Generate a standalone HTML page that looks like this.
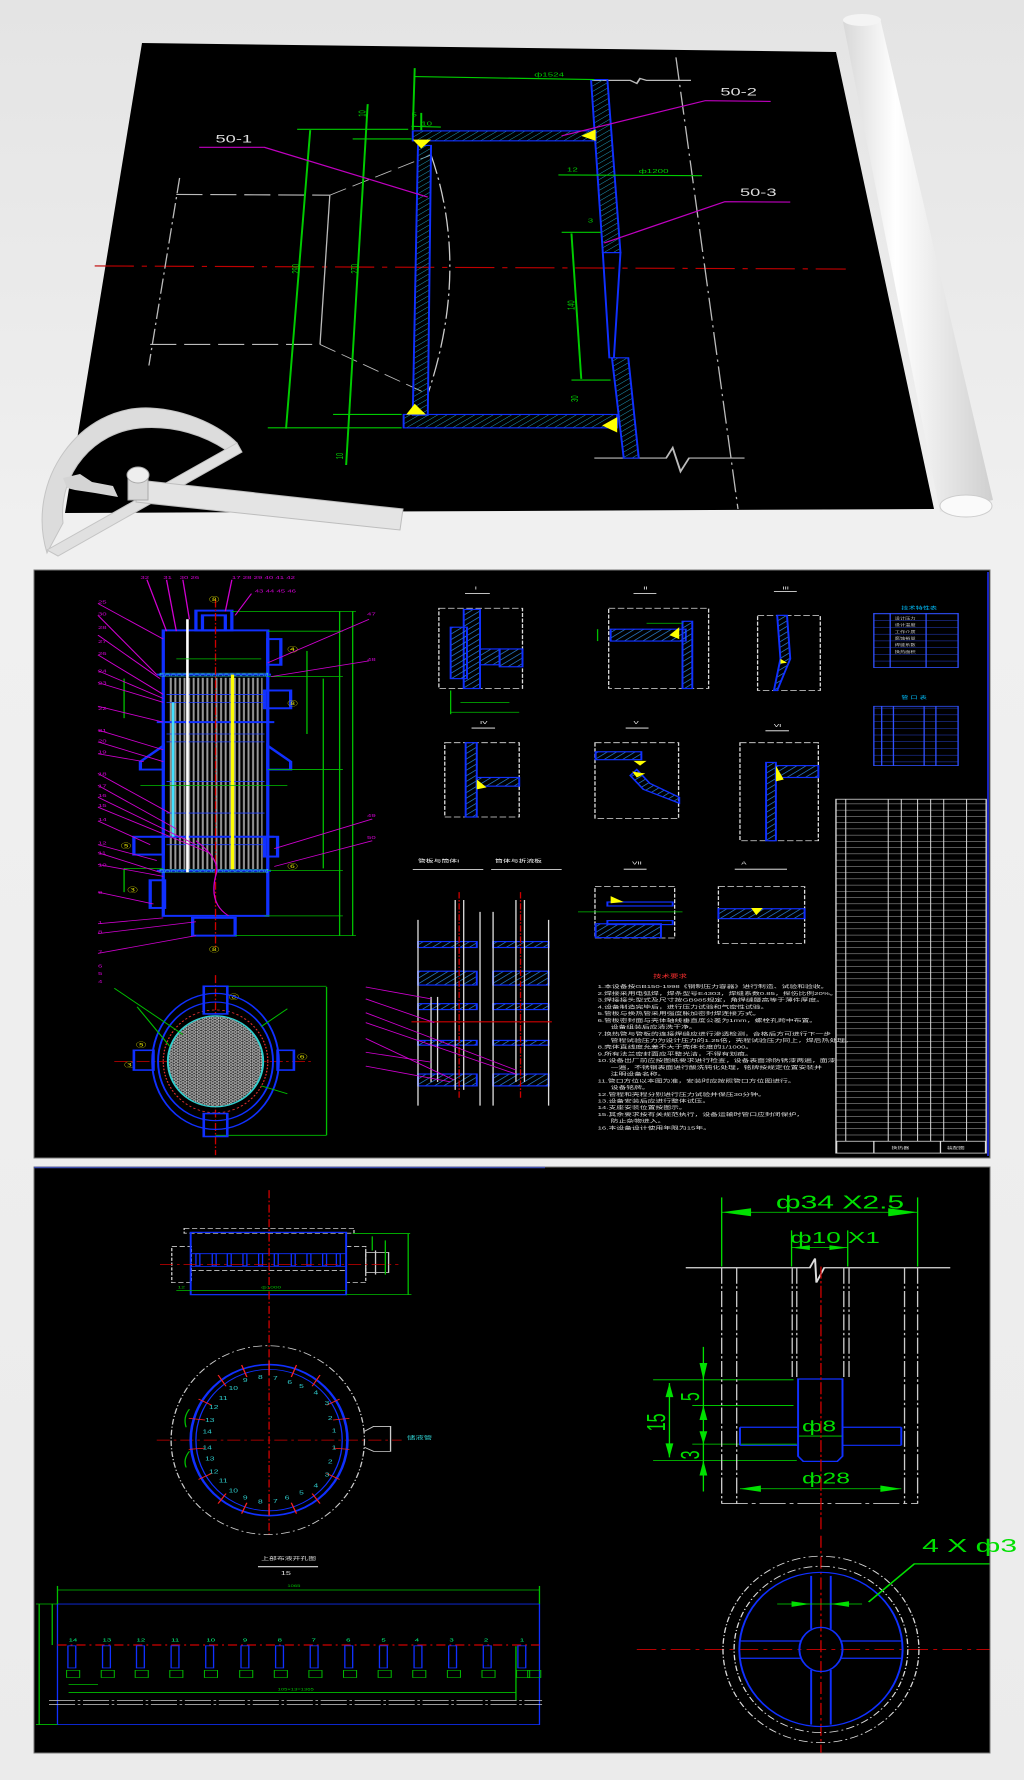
<!DOCTYPE html>
<html><head><meta charset="utf-8"><style>
html,body{margin:0;padding:0;width:1024px;height:1780px;overflow:hidden;background:#ececec}
svg{display:block}
text{font-family:"Liberation Sans","Noto Sans CJK SC",sans-serif}
</style></head><body>
<svg width="1024" height="1780" viewBox="0 0 1024 1780" xmlns="http://www.w3.org/2000/svg">
<defs>
<linearGradient id="bg" x1="0" y1="0" x2="0" y2="1"><stop offset="0" stop-color="#e4e4e4"/><stop offset="0.3" stop-color="#f0f0f0"/><stop offset="1" stop-color="#ebebeb"/></linearGradient>
<linearGradient id="roll" x1="0" y1="0" x2="1" y2="0"><stop offset="0" stop-color="#d8d8d8"/><stop offset="0.35" stop-color="#ffffff"/><stop offset="1" stop-color="#cfcfcf"/></linearGradient>
<pattern id="h" width="10" height="10" patternUnits="userSpaceOnUse" patternTransform="rotate(45)"><line x1="0" y1="0" x2="0" y2="10" stroke="#20a0c0" stroke-width="2"/></pattern>
<pattern id="hb" width="10" height="10" patternUnits="userSpaceOnUse" patternTransform="rotate(45)"><line x1="0" y1="0" x2="0" y2="10" stroke="#2a7fd0" stroke-width="3"/></pattern>
<pattern id="tubes" width="7" height="20" patternUnits="userSpaceOnUse"><rect x="1" y="0" width="3" height="20" fill="#9a9a9a"/></pattern>
<pattern id="dots" width="9" height="9" patternUnits="userSpaceOnUse"><circle cx="4.5" cy="4.5" r="3.5" fill="none" stroke="#30d0d0" stroke-width="1"/></pattern>
<pattern id="mesh" width="7" height="7" patternUnits="userSpaceOnUse"><rect width="7" height="7" fill="#333"/><circle cx="3.5" cy="3.5" r="2.6" fill="none" stroke="#ddd" stroke-width="1.2"/></pattern>
<pattern id="rows" width="10" height="15.8" patternUnits="userSpaceOnUse"><line x1="0" y1="0.5" x2="10" y2="0.5" stroke="#ddd" stroke-width="1"/></pattern>
<pattern id="rows2" width="10" height="17" patternUnits="userSpaceOnUse"><line x1="0" y1="0.5" x2="10" y2="0.5" stroke="#3050ff" stroke-width="1"/></pattern>
</defs>
<rect width="1024" height="1780" fill="url(#bg)"/>

<!-- ============ PANEL 1 ============ -->
<polygon points="142,43 836,52 934,509 65,513" fill="#000"/>
<polygon points="843,22 880,18 993,500 940,512" fill="url(#roll)"/>
<ellipse cx="862" cy="20" rx="19" ry="6" fill="#f4f4f4"/>
<ellipse cx="966" cy="506" rx="26" ry="11" fill="#fafafa" stroke="#ccc"/>
<g transform="scale(0.6531,0.3827)" fill="none" stroke-linecap="butt">
 <line x1="145" y1="695" x2="1295" y2="703" stroke="#c00000" stroke-width="3" stroke-dasharray="60,12,8,12"/>
 <line x1="275" y1="465" x2="228" y2="955" stroke="#bbb" stroke-width="2" stroke-dasharray="40,10,6,10"/>
 <line x1="270" y1="508" x2="505" y2="510" stroke="#bbb" stroke-width="3" stroke-dasharray="40,12"/>
 <line x1="230" y1="900" x2="490" y2="900" stroke="#bbb" stroke-width="3" stroke-dasharray="40,12"/>
 <line x1="505" y1="510" x2="490" y2="900" stroke="#bbb" stroke-width="2"/>
 <line x1="505" y1="510" x2="660" y2="405" stroke="#bbb" stroke-width="2" stroke-dasharray="30,12"/>
 <line x1="490" y1="900" x2="655" y2="1030" stroke="#bbb" stroke-width="2" stroke-dasharray="30,12"/>
 <path d="M660,405 Q720,700 655,1030" stroke="#ccc" stroke-width="2" stroke-dasharray="50,10,6,10"/>
 <line x1="1035" y1="150" x2="1130" y2="1330" stroke="#bbb" stroke-width="2" stroke-dasharray="60,12,6,12"/>
 <polyline points="910,1197 1020,1197 1030,1170 1042,1232 1055,1197 1140,1197" stroke="#bbb" stroke-width="3"/>
 <polyline points="905,210 965,210 975,218 980,205 990,210 1058,210" stroke="#bbb" stroke-width="3"/>
 <polygon points="640,380 660,380 655,1085 632,1085" fill="url(#h)" stroke="#1030ff" stroke-width="3"/>
 <rect x="632" y="342" width="280" height="26" fill="url(#h)" stroke="#1030ff" stroke-width="3"/>
 <rect x="618" y="1083" width="327" height="35" fill="url(#h)" stroke="#1030ff" stroke-width="3"/>
 <polygon points="905,208 930,208 950,660 923,660" fill="url(#h)" stroke="#1030ff" stroke-width="3"/>
 <polygon points="923,660 950,660 940,935 933,935" fill="none" stroke="#1030ff" stroke-width="3"/>
 <polygon points="937,935 962,935 978,1197 955,1197" fill="url(#h)" stroke="#1030ff" stroke-width="3"/>
 <g fill="#ffff00">
  <polygon points="632,365 660,365 645,388"/>
  <polygon points="912,338 912,368 890,355"/>
  <polygon points="622,1083 652,1083 635,1055"/>
  <polygon points="945,1090 945,1130 922,1112"/>
 </g>
 <g stroke="#00cc00" stroke-width="3">
  <line x1="475" y1="340" x2="438" y2="1120"/>
  <line x1="563" y1="272" x2="530" y2="1215"/>
  <line x1="875" y1="610" x2="890" y2="990"/>
  <line x1="455" y1="338" x2="625" y2="338"/>
  <line x1="540" y1="363" x2="630" y2="363"/>
  <line x1="410" y1="1118" x2="615" y2="1118"/>
  <line x1="510" y1="1083" x2="615" y2="1083"/>
  <line x1="860" y1="607" x2="920" y2="607"/>
  <line x1="875" y1="993" x2="935" y2="993"/>
  <line x1="635" y1="200" x2="910" y2="208"/>
  <line x1="855" y1="457" x2="1075" y2="459"/>
  <line x1="635" y1="178" x2="632" y2="340"/>
  <line x1="645" y1="295" x2="645" y2="340"/>
  <line x1="630" y1="330" x2="675" y2="332"/>
 </g>
 <g fill="#00cc00" font-size="15">
  <text x="818" y="200">ф1524</text>
  <text x="978" y="452">ф1200</text>
  <text x="868" y="448">12</text>
  <text x="900" y="582">3</text>
  <text x="645" y="328">10</text>
  <text x="630" y="305">5</text>
  <text transform="translate(458,715) rotate(-90)">290</text>
  <text transform="translate(548,715) rotate(-90)">270</text>
  <text transform="translate(880,810) rotate(-90)">140</text>
  <text transform="translate(885,1050) rotate(-90)">30</text>
  <text transform="translate(525,1200) rotate(-90)">10</text>
  <text transform="translate(560,305) rotate(-90)">10</text>
 </g>
 <g stroke="#c000c0" stroke-width="3">
  <polyline points="305,385 405,385 655,515"/>
  <polyline points="1180,265 1080,263 860,355"/>
  <polyline points="1210,528 1110,527 925,635"/>
 </g>
 <g fill="#ddd" font-size="28">
  <text x="330" y="372">50-1</text>
  <text x="1103" y="250">50-2</text>
  <text x="1133" y="512">50-3</text>
 </g>
</g>
<path d="M47,553 C25,480 80,405 150,408 C190,410 222,428 237,443 L226,450 C205,436 175,425 140,428 C95,432 58,472 63,523 Z" fill="#dcdcdc" stroke="#c4c4c4"/>
<polygon points="237,443 242,452 58,556 47,550" fill="#e0e0e0" stroke="#c4c4c4"/>
<polygon points="138,480 403,509 400,530 136,502" fill="#e4e4e4" stroke="#bdbdbd"/>
<polygon points="63,478 80,474 92,482 113,486 118,497 95,493 75,490 67,488" fill="#d4d4d4"/>
<rect x="128" y="476" width="20" height="24" fill="#d8d8d8" stroke="#aaa"/>
<ellipse cx="138" cy="475" rx="11" ry="8" fill="#eee" stroke="#aaa"/>

<!-- ============ PANEL 2 ============ -->
<rect x="34" y="570" width="956" height="588" fill="#000" stroke="#777" stroke-width="1"/>
<line x1="988" y1="572" x2="988" y2="1156" stroke="#2030ff" stroke-width="1.5"/>
<g transform="translate(0,560) scale(0.6531,0.3954)" fill="none">
 <rect x="258" y="298" width="144" height="484" fill="url(#tubes)"/>
 <g stroke="#1030ff" stroke-width="5">
  <rect x="250" y="178" width="160" height="722"/>
  <rect x="300" y="128" width="55" height="50"/>
  <rect x="310" y="140" width="35" height="38"/>
  <rect x="295" y="905" width="65" height="45"/>
  <line x1="240" y1="290" x2="415" y2="290"/>
  <line x1="240" y1="786" x2="415" y2="786"/>
  <line x1="240" y1="410" x2="420" y2="410"/>
  <line x1="230" y1="700" x2="420" y2="700"/>
  <rect x="410" y="200" width="20" height="65"/>
  <rect x="405" y="330" width="40" height="45"/>
  <rect x="205" y="700" width="45" height="45"/>
  <rect x="230" y="810" width="22" height="70"/>
  <rect x="405" y="700" width="20" height="50"/>
  <polygon points="250,470 215,510 215,530 250,530"/>
  <polygon points="410,470 445,510 445,530 410,530"/>
 </g>
 <g stroke="#2040ff" stroke-width="2">
  <line x1="255" y1="340" x2="405" y2="340"/><line x1="255" y1="360" x2="405" y2="360"/>
  <line x1="255" y1="440" x2="405" y2="440"/><line x1="255" y1="460" x2="405" y2="460"/>
  <line x1="255" y1="560" x2="405" y2="560"/><line x1="255" y1="640" x2="405" y2="640"/>
  <line x1="255" y1="720" x2="405" y2="720"/>
 </g>
 <rect x="245" y="286" width="165" height="8" fill="url(#dots)" stroke="#30d0d0"/>
 <rect x="245" y="782" width="165" height="8" fill="url(#dots)" stroke="#30d0d0"/>
 <line x1="356" y1="290" x2="356" y2="782" stroke="#ffff00" stroke-width="5"/>
 <line x1="287" y1="150" x2="287" y2="790" stroke="#ffffff" stroke-width="4"/>
 <line x1="265" y1="360" x2="265" y2="700" stroke="#40e0ff" stroke-width="4"/>
 <line x1="330" y1="100" x2="330" y2="980" stroke="#d00000" stroke-width="2" stroke-dasharray="20,5,4,5"/>
 <g stroke="#00c000" stroke-width="2">
  <line x1="520" y1="130" x2="520" y2="950"/><line x1="540" y1="130" x2="540" y2="950"/>
  <line x1="495" y1="300" x2="495" y2="780"/><line x1="470" y1="230" x2="470" y2="440"/>
  <line x1="355" y1="130" x2="545" y2="130"/><line x1="410" y1="180" x2="525" y2="180"/>
  <line x1="410" y1="295" x2="525" y2="295"/><line x1="410" y1="530" x2="525" y2="530"/>
  <line x1="410" y1="785" x2="525" y2="785"/><line x1="360" y1="950" x2="545" y2="950"/>
  <line x1="405" y1="900" x2="525" y2="900"/><line x1="190" y1="780" x2="250" y2="780"/>
  <line x1="190" y1="300" x2="190" y2="400"/><line x1="190" y1="780" x2="190" y2="840"/>
  <line x1="215" y1="570" x2="440" y2="570"/><line x1="270" y1="250" x2="400" y2="250"/>
  <line x1="500" y1="1080" x2="500" y2="1455"/><line x1="330" y1="1078" x2="500" y2="1078"/><line x1="330" y1="1455" x2="500" y2="1455"/>
 </g>
 <g stroke="#d000d0" stroke-width="2">
  <line x1="150" y1="110" x2="250" y2="200"/><line x1="150" y1="140" x2="240" y2="290"/>
  <line x1="150" y1="190" x2="245" y2="300"/><line x1="150" y1="240" x2="250" y2="340"/>
  <line x1="150" y1="280" x2="250" y2="350"/><line x1="150" y1="310" x2="250" y2="360"/>
  <line x1="150" y1="370" x2="250" y2="410"/><line x1="150" y1="430" x2="250" y2="480"/>
  <line x1="150" y1="460" x2="250" y2="510"/><line x1="150" y1="490" x2="220" y2="510"/>
  <line x1="150" y1="540" x2="260" y2="640"/><line x1="150" y1="570" x2="270" y2="680"/>
  <line x1="150" y1="600" x2="300" y2="720"/><line x1="150" y1="625" x2="320" y2="740"/>
  <line x1="150" y1="660" x2="230" y2="720"/><line x1="150" y1="720" x2="240" y2="760"/>
  <line x1="150" y1="740" x2="245" y2="790"/><line x1="150" y1="770" x2="250" y2="800"/>
  <line x1="150" y1="840" x2="235" y2="870"/><line x1="150" y1="920" x2="250" y2="905"/>
  <line x1="150" y1="945" x2="300" y2="915"/><line x1="150" y1="995" x2="300" y2="950"/>
  <line x1="225" y1="50" x2="255" y2="180"/><line x1="255" y1="50" x2="270" y2="180"/>
  <line x1="280" y1="50" x2="290" y2="150"/><line x1="355" y1="50" x2="345" y2="130"/>
  <line x1="385" y1="85" x2="360" y2="140"/>
  <line x1="565" y1="150" x2="410" y2="260"/><line x1="565" y1="255" x2="415" y2="295"/>
  <line x1="570" y1="655" x2="420" y2="730"/><line x1="570" y1="710" x2="420" y2="775"/>
  <path d="M300,710 Q340,760 330,800 Q320,870 350,900"/>
 </g>
 <g fill="#d000d0" font-size="12">
  <text x="215" y="48">32</text><text x="250" y="48">31</text><text x="275" y="48">30 26</text><text x="355" y="48">17 28 29 40 41 42</text><text x="390" y="82">43 44 45 46</text>
  <text x="150" y="110">25</text><text x="150" y="140">30</text><text x="150" y="175">28</text><text x="150" y="210">27</text><text x="150" y="240">26</text><text x="150" y="285">24</text><text x="150" y="315">23</text><text x="150" y="380">22</text><text x="150" y="435">21</text><text x="150" y="462">20</text><text x="150" y="490">19</text><text x="150" y="545">18</text><text x="150" y="575">17</text><text x="150" y="600">16</text><text x="150" y="625">15</text><text x="150" y="660">14</text><text x="150" y="720">12</text><text x="150" y="745">11</text><text x="150" y="775">10</text><text x="150" y="845">9</text><text x="150" y="920">1</text><text x="150" y="945">8</text><text x="150" y="995">7</text><text x="150" y="1030">6</text><text x="150" y="1050">5</text><text x="150" y="1070">4</text>
  <text x="562" y="140">47</text><text x="562" y="255">48</text><text x="562" y="650">49</text><text x="562" y="705">50</text>
 </g>
 <g fill="#e0e000" font-size="16"><text x="320" y="105">⑧</text><text x="440" y="232">④</text><text x="440" y="368">⑧</text><text x="185" y="728">⑤</text><text x="195" y="840">③</text><text x="440" y="780">⑥</text><text x="320" y="990">⑧</text><text x="350" y="1110">⑧</text><text x="208" y="1232">⑤</text><text x="455" y="1262">⑥</text><text x="190" y="1282">③</text></g>
 <line x1="330" y1="1050" x2="330" y2="1505" stroke="#d00000" stroke-width="2" stroke-dasharray="20,5,4,5"/>
 <line x1="175" y1="1268" x2="480" y2="1268" stroke="#d00000" stroke-width="2" stroke-dasharray="20,5,4,5"/>
 <ellipse cx="330" cy="1268" rx="97" ry="172" stroke="#1030ff" stroke-width="3"/>
 <ellipse cx="330" cy="1268" rx="88" ry="150" stroke="#1030ff" stroke-width="3"/>
 <ellipse cx="330" cy="1268" rx="80" ry="130" stroke="#e03030" stroke-width="2" stroke-dasharray="4,4"/>
 <ellipse cx="330" cy="1268" rx="73" ry="115" fill="url(#mesh)" stroke="#30d0d0" stroke-width="3"/>
 <g stroke="#1030ff" stroke-width="4">
  <rect x="312" y="1078" width="36" height="70"/><rect x="312" y="1400" width="36" height="58"/>
  <rect x="205" y="1240" width="30" height="50"/><rect x="425" y="1240" width="25" height="50"/>
 </g>
 <g stroke="#00c000" stroke-width="2"><line x1="175" y1="1083" x2="280" y2="1200"/><line x1="210" y1="1130" x2="260" y2="1230"/><line x1="440" y1="1135" x2="400" y2="1180"/><line x1="440" y1="1350" x2="400" y2="1330"/></g>
 <g stroke="#ddd" stroke-width="2" stroke-dasharray="10,4">
  <rect x="672" y="122" width="128" height="203"/>
  <rect x="932" y="122" width="153" height="203"/>
  <rect x="1160" y="140" width="96" height="190"/>
  <rect x="681" y="462" width="114" height="188"/>
  <rect x="911" y="462" width="128" height="192"/>
  <rect x="1133" y="462" width="120" height="248"/>
  <rect x="911" y="826" width="122" height="130"/>
  <rect x="1100" y="826" width="132" height="144"/>
 </g>
 <g stroke="#1030ff" stroke-width="3">
  <rect x="710" y="125" width="25" height="200" fill="url(#hb)"/>
  <rect x="690" y="170" width="25" height="130" fill="url(#hb)"/>
  <rect x="735" y="225" width="30" height="40" fill="url(#hb)"/>
  <rect x="765" y="225" width="35" height="45" fill="url(#hb)"/>
  <rect x="935" y="175" width="115" height="30" fill="url(#hb)"/>
  <rect x="1045" y="155" width="15" height="170" fill="url(#hb)"/>
  <polygon points="1190,140 1205,140 1210,250 1190,330 1185,330 1195,250" fill="url(#hb)"/>
  <rect x="713" y="462" width="17" height="188" fill="url(#hb)"/>
  <rect x="730" y="550" width="65" height="22" fill="url(#hb)"/>
  <rect x="912" y="485" width="70" height="20" fill="url(#hb)"/>
  <polygon points="975,530 995,565 1040,600 1040,615 985,580 965,545" fill="url(#hb)"/>
  <rect x="1173" y="512" width="15" height="198" fill="url(#hb)"/>
  <rect x="1188" y="520" width="65" height="30" fill="url(#hb)"/>
  <rect x="912" y="920" width="100" height="35" fill="url(#hb)"/>
  <rect x="930" y="865" width="100" height="10"/>
  <rect x="930" y="912" width="100" height="10"/>
  <rect x="1100" y="882" width="132" height="25" fill="url(#hb)"/>
 </g>
 <g fill="#ffff00">
  <polygon points="1040,170 1040,200 1025,190"/><polygon points="730,555 745,575 730,580"/>
  <polygon points="970,508 990,508 980,520"/><polygon points="968,535 988,540 975,550"/>
  <polygon points="1188,520 1200,555 1188,560"/><polygon points="935,850 955,865 935,868"/>
  <polygon points="1150,880 1168,880 1158,898"/><polygon points="1195,250 1205,260 1195,262"/>
 </g>
 <g stroke="#00c000" stroke-width="2">
  <line x1="690" y1="330" x2="690" y2="390"/><line x1="690" y1="385" x2="795" y2="385"/><line x1="705" y1="360" x2="780" y2="360"/>
  <line x1="915" y1="175" x2="915" y2="205"/><line x1="990" y1="160" x2="1045" y2="160"/>
  <line x1="885" y1="890" x2="1045" y2="890"/>
 </g>
 <g fill="#fff" font-size="12">
  <text x="727" y="75">I</text><text x="985" y="75">II</text><text x="1198" y="75">III</text>
  <text x="735" y="415">IV</text><text x="970" y="415">V</text><text x="1185" y="422">VI</text>
  <text x="968" y="770">VII</text><text x="1135" y="770">A</text>
  <text x="640" y="765">管板与筒体I</text><text x="758" y="765">筒体与折流板</text>
 </g>
 <g stroke="#fff" stroke-width="2">
  <line x1="712" y1="85" x2="750" y2="85"/><line x1="970" y1="85" x2="1005" y2="85"/><line x1="1185" y1="80" x2="1220" y2="80"/>
  <line x1="722" y1="425" x2="758" y2="425"/><line x1="958" y1="425" x2="993" y2="425"/><line x1="1172" y1="432" x2="1208" y2="432"/>
  <line x1="955" y1="782" x2="990" y2="782"/><line x1="1125" y1="782" x2="1205" y2="782"/>
  <line x1="632" y1="783" x2="740" y2="783"/><line x1="752" y1="783" x2="860" y2="783"/>
 </g>
 <g stroke="#1030ff" stroke-width="3" fill="url(#hb)">
  <rect x="640" y="965" width="90" height="15"/><rect x="755" y="965" width="85" height="15"/>
  <rect x="640" y="1040" width="90" height="35"/><rect x="755" y="1040" width="85" height="35"/>
  <rect x="640" y="1122" width="90" height="15"/><rect x="755" y="1122" width="85" height="15"/>
  <rect x="640" y="1215" width="90" height="12"/><rect x="755" y="1215" width="85" height="12"/>
  <rect x="640" y="1300" width="90" height="30"/><rect x="755" y="1300" width="85" height="30"/>
 </g>
 <g stroke="#ddd" stroke-width="2">
  <line x1="640" y1="910" x2="640" y2="1380"/><line x1="735" y1="890" x2="735" y2="1380"/>
  <line x1="755" y1="890" x2="755" y2="1380"/><line x1="840" y1="910" x2="840" y2="1380"/>
  <line x1="697" y1="860" x2="697" y2="1340"/><line x1="710" y1="860" x2="710" y2="1340"/>
  <line x1="790" y1="860" x2="790" y2="1320"/><line x1="803" y1="860" x2="803" y2="1320"/>
  <line x1="660" y1="1105" x2="660" y2="1320"/><line x1="670" y1="1105" x2="670" y2="1320"/>
 </g>
 <line x1="703" y1="840" x2="703" y2="1360" stroke="#d00000" stroke-width="2" stroke-dasharray="16,4,4,4"/>
 <line x1="797" y1="840" x2="797" y2="1360" stroke="#d00000" stroke-width="2" stroke-dasharray="16,4,4,4"/>
 <line x1="630" y1="1168" x2="845" y2="1168" stroke="#d00000" stroke-width="3"/>
 <g stroke="#d000d0" stroke-width="2"><line x1="560" y1="1080" x2="660" y2="1110"/><line x1="560" y1="1110" x2="665" y2="1170"/><line x1="560" y1="1145" x2="790" y2="1290"/><line x1="560" y1="1170" x2="790" y2="1300"/><line x1="560" y1="1210" x2="695" y2="1315"/><line x1="560" y1="1245" x2="660" y2="1270"/><line x1="560" y1="1280" x2="690" y2="1320"/></g>
 <text x="1000" y="1057" fill="#ff3030" font-size="13">技术要求</text>
 <g fill="#ddd" font-size="12">
  <text x="915" y="1083">1.本设备按GB150-1998《钢制压力容器》进行制造、试验和验收。</text>
  <text x="915" y="1100">2.焊接采用电弧焊，焊条型号E4303，焊缝系数0.85，探伤比例20%。</text>
  <text x="915" y="1117">3.焊接接头型式及尺寸按GB985规定，角焊缝腰高等于薄件厚度。</text>
  <text x="915" y="1134">4.设备制造完毕后，进行压力试验和气密性试验。</text>
  <text x="915" y="1151">5.管板与换热管采用强度胀加密封焊连接方式。</text>
  <text x="915" y="1168">6.管板密封面与壳体轴线垂直度公差为1mm，螺栓孔跨中布置。</text>
  <text x="935" y="1185">设备组装后应清洗干净。</text>
  <text x="915" y="1202">7.换热管与管板的连接焊缝应进行渗透检测，合格后方可进行下一步</text>
  <text x="935" y="1219">管程试验压力为设计压力的1.25倍，壳程试验压力同上，焊后热处理。</text>
  <text x="915" y="1236">8.壳体直线度允差不大于壳体长度的1/1000。</text>
  <text x="915" y="1253">9.所有法兰密封面应平整光洁，不得有划痕。</text>
  <text x="915" y="1270">10.设备出厂前应按图纸要求进行检查，设备表面涂防锈漆两遍，面漆</text>
  <text x="935" y="1287">一遍，不锈钢表面进行酸洗钝化处理，铭牌按规定位置安装并</text>
  <text x="935" y="1304">注明设备名称。</text>
  <text x="915" y="1321">11.管口方位以本图为准，安装时应按照管口方位图进行。</text>
  <text x="935" y="1338">设备铭牌。</text>
  <text x="915" y="1355">12.管程和壳程分别进行压力试验并保压30分钟。</text>
  <text x="915" y="1372">13.设备安装后应进行整体试压。</text>
  <text x="915" y="1389">14.支座安装位置按图示。</text>
  <text x="915" y="1406">15.其余要求按有关规范执行，设备运输时管口应封闭保护，</text>
  <text x="935" y="1423">防止杂物进入。</text>
  <text x="915" y="1440">16.本设备设计使用年限为15年。</text>
 </g>
 <text x="1380" y="125" fill="#00c0ff" font-size="11">技术特性表</text>
 <rect x="1338" y="135" width="129" height="137" fill="url(#rows2)" stroke="#3050ff" stroke-width="2"/>
 <g stroke="#3050ff" stroke-width="2"><line x1="1363" y1="135" x2="1363" y2="272"/><line x1="1418" y1="135" x2="1418" y2="272"/></g>
 <text x="1380" y="352" fill="#00c0ff" font-size="11">管 口 表</text>
 <rect x="1338" y="370" width="129" height="150" fill="url(#rows2)" stroke="#3050ff" stroke-width="2"/>
 <g stroke="#3050ff" stroke-width="2"><line x1="1350" y1="370" x2="1350" y2="520"/><line x1="1368" y1="370" x2="1368" y2="520"/><line x1="1415" y1="370" x2="1415" y2="520"/><line x1="1433" y1="370" x2="1433" y2="520"/></g>
 <g fill="#ccc" font-size="8"><text x="1370" y="150">设计压力</text><text x="1370" y="167">设计温度</text><text x="1370" y="184">工作介质</text><text x="1370" y="201">腐蚀裕量</text><text x="1370" y="218">焊缝系数</text><text x="1370" y="235">换热面积</text></g>
 <rect x="1280" y="605" width="230" height="895" fill="url(#rows)" stroke="#ddd" stroke-width="2"/>
 <g stroke="#ddd" stroke-width="1.5">
  <line x1="1295" y1="605" x2="1295" y2="1470"/><line x1="1360" y1="605" x2="1360" y2="1470"/>
  <line x1="1380" y1="605" x2="1380" y2="1470"/><line x1="1405" y1="605" x2="1405" y2="1470"/>
  <line x1="1425" y1="605" x2="1425" y2="1470"/><line x1="1445" y1="605" x2="1445" y2="1470"/>
  <line x1="1480" y1="605" x2="1480" y2="1470"/>
 </g>
 <rect x="1281" y="1470" width="228" height="30" fill="#000" stroke="#ddd" stroke-width="2"/>
 <line x1="1338" y1="1470" x2="1338" y2="1500" stroke="#ddd" stroke-width="2"/><line x1="1440" y1="1470" x2="1440" y2="1500" stroke="#ddd" stroke-width="2"/>
 <g fill="#ddd" font-size="9"><text x="1365" y="1490">换热器</text><text x="1450" y="1490">装配图</text></g>
</g>

<!-- ============ PANEL 3 ============ -->
<rect x="34" y="1167" width="956" height="586" fill="#000" stroke="#777" stroke-width="1"/>
<line x1="34" y1="1167.5" x2="545" y2="1167.5" stroke="#4050b0" stroke-width="1.5"/>
<g transform="translate(0,1150) scale(0.6531,0.4018)" fill="none">
 <g stroke="#ccc" stroke-width="2" stroke-dasharray="8,4">
  <rect x="282" y="195" width="260" height="12"/>
  <rect x="263" y="240" width="30" height="90"/>
  <rect x="530" y="240" width="30" height="90"/>
  <line x1="292" y1="300" x2="530" y2="300"/>
 </g>
 <rect x="292" y="205" width="238" height="155" stroke="#1030ff" stroke-width="3"/>
 <g stroke="#1030ff" stroke-width="2"><line x1="292" y1="258" x2="530" y2="258"/><line x1="292" y1="290" x2="530" y2="290"/></g>
 <g stroke="#1030ff" stroke-width="2">
  <rect x="300" y="258" width="6" height="30"/><rect x="325" y="258" width="6" height="30"/><rect x="348" y="258" width="6" height="30"/><rect x="372" y="258" width="6" height="30"/><rect x="396" y="258" width="6" height="30"/><rect x="420" y="258" width="6" height="30"/><rect x="446" y="258" width="6" height="30"/><rect x="470" y="258" width="6" height="30"/><rect x="494" y="258" width="6" height="30"/><rect x="515" y="258" width="6" height="30"/>
 </g>
 <g stroke="#ccc" stroke-width="2"><rect x="560" y="255" width="35" height="50"/><line x1="575" y1="250" x2="575" y2="310"/></g>
 <g stroke="#00c000" stroke-width="2"><line x1="540" y1="208" x2="628" y2="208"/><line x1="625" y1="208" x2="625" y2="360"/><line x1="590" y1="225" x2="590" y2="310"/><line x1="570" y1="215" x2="570" y2="250"/><line x1="270" y1="350" x2="530" y2="350"/><line x1="530" y1="360" x2="630" y2="360"/></g>
 <g fill="#00c000" font-size="10"><text x="400" y="345">ф1000</text><text x="272" y="345">12</text></g>
 <line x1="412" y1="100" x2="412" y2="960" stroke="#d00000" stroke-width="2" stroke-dasharray="20,6,4,6"/>
 <line x1="245" y1="285" x2="610" y2="285" stroke="#d00000" stroke-width="2" stroke-dasharray="20,6,4,6"/>
 <line x1="240" y1="722" x2="615" y2="722" stroke="#d00000" stroke-width="2" stroke-dasharray="20,6,4,6"/>
 <ellipse cx="410" cy="722" rx="148" ry="235" stroke="#ccc" stroke-width="2" stroke-dasharray="14,5,3,5"/>
 <ellipse cx="412" cy="722" rx="120" ry="188" stroke="#1030ff" stroke-width="4"/>
 <ellipse cx="412" cy="722" rx="112" ry="176" stroke="#1030ff" stroke-width="2"/>
 <g stroke="#ccc" stroke-width="2"><polyline points="558,700 572,688 598,688 598,750 572,750 558,740"/></g>
 <g stroke="#ff2020" stroke-width="2">
  <line x1="412" y1="525" x2="412" y2="560"/><line x1="454" y1="535" x2="446" y2="565"/><line x1="370" y1="535" x2="378" y2="565"/>
  <line x1="490" y1="560" x2="478" y2="588"/><line x1="334" y1="560" x2="346" y2="588"/>
  <line x1="520" y1="620" x2="500" y2="635"/><line x1="304" y1="620" x2="324" y2="635"/>
  <line x1="535" y1="668" x2="510" y2="672"/><line x1="289" y1="668" x2="314" y2="672"/>
  <line x1="535" y1="745" x2="510" y2="742"/><line x1="289" y1="745" x2="314" y2="742"/>
  <line x1="520" y1="820" x2="500" y2="805"/><line x1="304" y1="820" x2="324" y2="805"/>
  <line x1="490" y1="880" x2="478" y2="855"/><line x1="334" y1="880" x2="346" y2="855"/>
  <line x1="454" y1="905" x2="446" y2="878"/><line x1="370" y1="905" x2="378" y2="878"/>
  <line x1="412" y1="910" x2="412" y2="880"/>
 </g>
 <g fill="#30d0d0" font-size="13">
  <text x="395" y="570">8</text><text x="418" y="572">7</text><text x="440" y="582">6</text><text x="458" y="592">5</text><text x="480" y="608">4</text><text x="497" y="635">3</text><text x="502" y="672">2</text><text x="508" y="703">1</text>
  <text x="372" y="578">9</text><text x="350" y="597">10</text><text x="335" y="622">11</text><text x="320" y="645">12</text><text x="314" y="677">13</text><text x="310" y="705">14</text>
  <text x="310" y="745">14</text><text x="314" y="773">13</text><text x="320" y="805">12</text><text x="335" y="828">11</text><text x="350" y="853">10</text><text x="372" y="870">9</text>
  <text x="395" y="880">8</text><text x="418" y="878">7</text><text x="436" y="870">6</text><text x="458" y="857">5</text><text x="480" y="840">4</text><text x="497" y="812">3</text><text x="502" y="780">2</text><text x="508" y="746">1</text>
  <text x="623" y="720">储液管</text>
 </g>
 <g stroke="#00c000" stroke-width="2"><path d="M290,645 Q280,665 285,690"/><path d="M290,750 Q280,770 285,790"/></g>
 <text x="400" y="1020" fill="#ddd" font-size="12">上部布液开孔图</text>
 <line x1="395" y1="1037" x2="487" y2="1037" stroke="#ddd" stroke-width="3"/>
 <text x="430" y="1058" fill="#ddd" font-size="14">15</text>
 <rect x="88" y="1130" width="738" height="300" stroke="#1030ff" stroke-width="2"/>
 <g stroke="#00c000" stroke-width="2"><line x1="88" y1="1095" x2="826" y2="1095"/><line x1="88" y1="1085" x2="88" y2="1130"/><line x1="826" y1="1085" x2="826" y2="1130"/><line x1="60" y1="1130" x2="60" y2="1430"/><line x1="80" y1="1130" x2="80" y2="1232"/><line x1="55" y1="1130" x2="88" y2="1130"/><line x1="55" y1="1430" x2="88" y2="1430"/><line x1="105" y1="1350" x2="790" y2="1350"/><line x1="105" y1="1330" x2="150" y2="1330"/><line x1="790" y1="1235" x2="790" y2="1370"/></g>
 <text x="440" y="1088" fill="#00c000" font-size="9">1065</text>
 <text x="425" y="1345" fill="#00c000" font-size="9">105×13=1365</text>
 <line x1="88" y1="1232" x2="826" y2="1232" stroke="#d00000" stroke-width="3" stroke-dasharray="14,6,3,6"/>
 <g stroke="#ccc" stroke-width="2" stroke-dasharray="40,4,4,4"><line x1="75" y1="1370" x2="830" y2="1370"/><line x1="75" y1="1380" x2="830" y2="1380"/></g>
 <g fill="#00ff80" font-size="12">
  <text x="105" y="1223">14</text><text x="157" y="1223">13</text><text x="209" y="1223">12</text><text x="262" y="1223">11</text><text x="316" y="1223">10</text><text x="372" y="1223">9</text><text x="425" y="1223">8</text><text x="477" y="1223">7</text><text x="530" y="1223">6</text><text x="584" y="1223">5</text><text x="635" y="1223">4</text><text x="688" y="1223">3</text><text x="741" y="1223">2</text><text x="796" y="1223">1</text>
 </g>
 <g stroke="#1030ff" stroke-width="2">
  <rect x="104" y="1234" width="12" height="55"/><rect x="157" y="1234" width="12" height="55"/><rect x="209" y="1234" width="12" height="55"/><rect x="262" y="1234" width="12" height="55"/><rect x="315" y="1234" width="12" height="55"/><rect x="369" y="1234" width="12" height="55"/><rect x="422" y="1234" width="12" height="55"/><rect x="475" y="1234" width="12" height="55"/><rect x="528" y="1234" width="12" height="55"/><rect x="581" y="1234" width="12" height="55"/><rect x="634" y="1234" width="12" height="55"/><rect x="687" y="1234" width="12" height="55"/><rect x="740" y="1234" width="12" height="55"/><rect x="793" y="1234" width="12" height="55"/>
 </g>
 <g stroke="#00c000" stroke-width="1.5">
  <rect x="102" y="1295" width="20" height="18"/><rect x="155" y="1295" width="20" height="18"/><rect x="207" y="1295" width="20" height="18"/><rect x="260" y="1295" width="20" height="18"/><rect x="313" y="1295" width="20" height="18"/><rect x="367" y="1295" width="20" height="18"/><rect x="420" y="1295" width="20" height="18"/><rect x="473" y="1295" width="20" height="18"/><rect x="526" y="1295" width="20" height="18"/><rect x="579" y="1295" width="20" height="18"/><rect x="632" y="1295" width="20" height="18"/><rect x="685" y="1295" width="20" height="18"/><rect x="738" y="1295" width="20" height="18"/><rect x="791" y="1295" width="20" height="18"/><rect x="808" y="1295" width="20" height="18"/>
 </g>
 <g stroke="#00e000" stroke-width="2">
  <line x1="1105" y1="118" x2="1105" y2="290"/><line x1="1405" y1="118" x2="1405" y2="290"/>
  <line x1="1105" y1="155" x2="1405" y2="155"/>
  <line x1="1212" y1="200" x2="1212" y2="290"/><line x1="1298" y1="200" x2="1298" y2="290"/>
  <line x1="1212" y1="243" x2="1298" y2="243"/>
  <line x1="1000" y1="572" x2="1215" y2="572"/><line x1="1000" y1="773" x2="1220" y2="773"/>
  <line x1="1060" y1="636" x2="1215" y2="636"/><line x1="1060" y1="732" x2="1220" y2="732"/>
  <line x1="1025" y1="580" x2="1025" y2="765"/><line x1="1077" y1="490" x2="1077" y2="850"/>
  <line x1="1133" y1="843" x2="1380" y2="843"/><line x1="1222" y1="712" x2="1290" y2="712"/>
 </g>
 <g fill="#00e000">
  <polygon points="1105,155 1150,145 1150,165"/><polygon points="1405,155 1360,145 1360,165"/>
  <polygon points="1212,243 1240,237 1240,249"/><polygon points="1298,243 1270,237 1270,249"/>
  <polygon points="1133,843 1165,835 1165,851"/><polygon points="1380,843 1348,835 1348,851"/>
  <polygon points="1025,580 1019,615 1031,615"/><polygon points="1025,765 1019,730 1031,730"/>
  <polygon points="1077,572 1071,530 1083,530"/><polygon points="1077,636 1071,672 1083,672"/><polygon points="1077,732 1071,700 1083,700"/><polygon points="1077,773 1071,810 1083,810"/>
 </g>
 <g fill="#00e000">
  <text x="1188" y="145" font-size="46">ф34 X2.5</text>
  <text x="1210" y="232" font-size="40">ф10 X1</text>
  <text x="1228" y="700" font-size="38">ф8</text>
  <text x="1228" y="830" font-size="38">ф28</text>
  <text transform="translate(1070,625) rotate(-90)" font-size="40">5</text>
  <text transform="translate(1018,700) rotate(-90)" font-size="40">15</text>
  <text transform="translate(1070,770) rotate(-90)" font-size="40">3</text>
  <text x="1412" y="1000" font-size="46">4 X ф3</text>
 </g>
 <polyline points="1050,293 1240,293 1248,270 1250,330 1262,293 1455,293" stroke="#ddd" stroke-width="3"/>
 <g stroke="#ccc" stroke-width="2" stroke-dasharray="40,6,6,6">
  <line x1="1105" y1="293" x2="1105" y2="880"/><line x1="1128" y1="293" x2="1128" y2="880"/>
  <line x1="1385" y1="293" x2="1385" y2="880"/><line x1="1405" y1="293" x2="1405" y2="880"/>
  <line x1="1213" y1="293" x2="1213" y2="570"/><line x1="1220" y1="293" x2="1220" y2="570"/>
  <line x1="1292" y1="293" x2="1292" y2="570"/><line x1="1300" y1="293" x2="1300" y2="570"/>
  <line x1="1105" y1="880" x2="1405" y2="880"/>
 </g>
 <g stroke="#1030ff" stroke-width="3">
  <polygon points="1222,570 1290,570 1290,762 1282,775 1230,775 1222,762"/>
  <line x1="1133" y1="690" x2="1222" y2="690"/><line x1="1133" y1="735" x2="1222" y2="735"/>
  <line x1="1290" y1="690" x2="1380" y2="690"/><line x1="1290" y1="735" x2="1380" y2="735"/>
  <line x1="1133" y1="690" x2="1133" y2="735"/><line x1="1380" y1="690" x2="1380" y2="735"/>
 </g>
 <line x1="1257" y1="290" x2="1257" y2="950" stroke="#d00000" stroke-width="2" stroke-dasharray="30,6,6,6"/>
 <line x1="975" y1="1243" x2="1515" y2="1243" stroke="#d00000" stroke-width="2" stroke-dasharray="30,8,6,8"/>
 <line x1="1257" y1="960" x2="1257" y2="1500" stroke="#d00000" stroke-width="2" stroke-dasharray="30,8,6,8"/>
 <ellipse cx="1257" cy="1243" rx="150" ry="232" stroke="#ddd" stroke-width="2" stroke-dasharray="14,5,3,5"/>
 <ellipse cx="1257" cy="1243" rx="133" ry="207" stroke="#ddd" stroke-width="2" stroke-dasharray="14,5,3,5"/>
 <ellipse cx="1257" cy="1243" rx="125" ry="192" stroke="#1030ff" stroke-width="3"/>
 <ellipse cx="1257" cy="1243" rx="33" ry="55" stroke="#1030ff" stroke-width="3"/>
 <g stroke="#1030ff" stroke-width="3">
  <line x1="1242" y1="1060" x2="1242" y2="1192"/><line x1="1272" y1="1060" x2="1272" y2="1192"/>
  <line x1="1242" y1="1294" x2="1242" y2="1430"/><line x1="1272" y1="1294" x2="1272" y2="1430"/>
  <line x1="1134" y1="1222" x2="1226" y2="1222"/><line x1="1134" y1="1265" x2="1226" y2="1265"/>
  <line x1="1288" y1="1222" x2="1380" y2="1222"/><line x1="1288" y1="1265" x2="1380" y2="1265"/>
 </g>
 <polyline points="1515,1030 1400,1030 1330,1125" stroke="#00e000" stroke-width="3"/>
 <g stroke="#00e000" stroke-width="2"><line x1="1190" y1="1130" x2="1320" y2="1130"/></g>
 <g fill="#00e000"><polygon points="1240,1130 1212,1123 1212,1137"/><polygon points="1272,1130 1300,1123 1300,1137"/></g>
</g>
</svg>
</body></html>
